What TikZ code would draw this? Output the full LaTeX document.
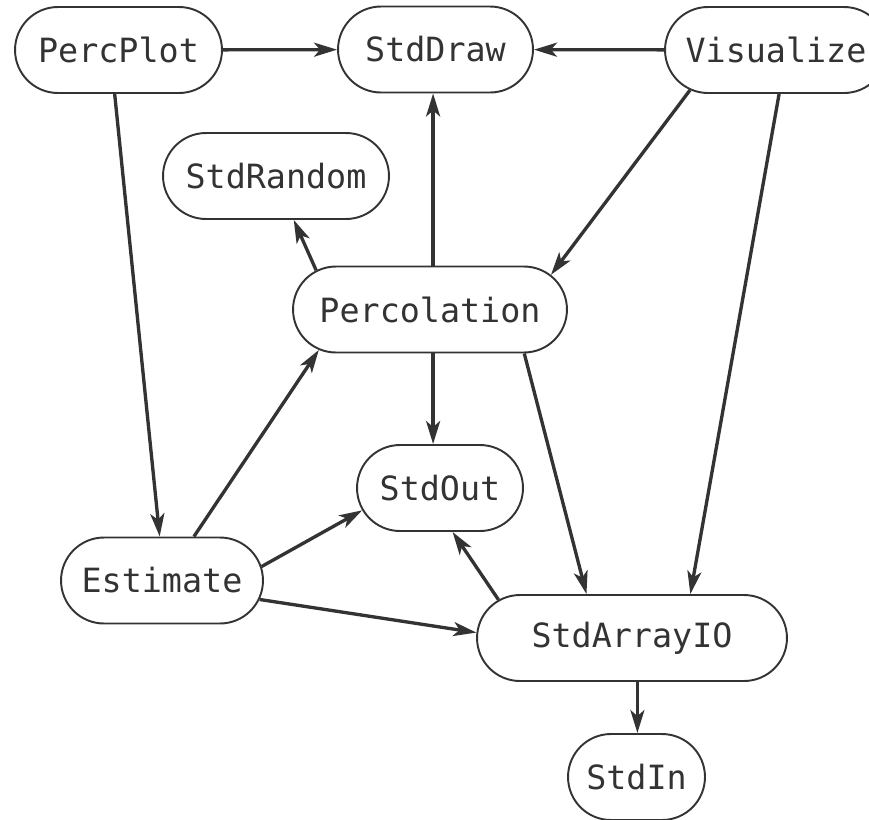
\documentclass[tikz,border=0pt]{standalone}
\usepackage{fontspec}
\setmonofont{DejaVu Sans Mono}
\usetikzlibrary{shapes.misc,arrows.meta}
\definecolor{ink}{HTML}{333333}
\begin{document}
\begin{tikzpicture}[x=0.02cm,y=-0.02cm,
    every node/.style={rounded rectangle,draw=ink,line width=1.1pt,text=ink,
      inner xsep=-0.55cm,inner ysep=0pt,minimum height=1.72cm,
      font=\ttfamily\fontsize{19}{23}\selectfont}]
      \useasboundingbox (0,0) rectangle (869,819);
      \draw
        (118.5,50) node[minimum width=3.04cm] (PercPlot){PercPlot}
        (435.5,49.5) node[minimum width=2.8cm] (StdDraw){StdDraw}
        (776,50) node[minimum width=3.34cm] (Visualize){Visualize}
        (276,176) node[minimum width=3.42cm] (StdRandom){StdRandom}
        (430,309.5) node[minimum width=4.38cm] (Percolation){Percolation}
        (440,488) node[minimum width=2.22cm] (StdOut){StdOut}
        (162,580.5) node[minimum width=2.94cm] (Estimate){Estimate}
        (632,638) node[minimum width=5.1cm] (StdArrayIO){StdArrayIO}
        (636.5,777) node[minimum width=1.64cm] (StdIn){StdIn};
      \begin{scope}[draw=ink,line width=1.9pt,
          -{Stealth[length=0.46cm,width=0.28cm,inset=0.12cm]}]
        \draw (PercPlot) to (StdDraw);
        \draw (Visualize) to (StdDraw);
        \draw (Percolation.86) to (Percolation.86 |- StdDraw.south);
        \draw (Percolation.161) to (StdRandom.-68);
        \draw (Visualize.205) to (Percolation.16);
        \draw (Visualize.-86) to (StdArrayIO.37);
        \draw (PercPlot.-95) to (Estimate.93);
        \draw (Estimate.54) to (Percolation.200);
        \draw (Percolation.-86) to (Percolation.-86 |- StdOut.north);
        \draw (Percolation.-25) to (StdArrayIO.136);
        \draw (Estimate.8) to (StdOut.196);
        \draw (Estimate.-11) to (StdArrayIO.178);
        \draw (StdArrayIO.164) to (StdOut.-74);
        \draw (StdArrayIO.-83) to (StdArrayIO.-83 |- StdIn.north);
      \end{scope}
    \end{tikzpicture}
\end{document}
